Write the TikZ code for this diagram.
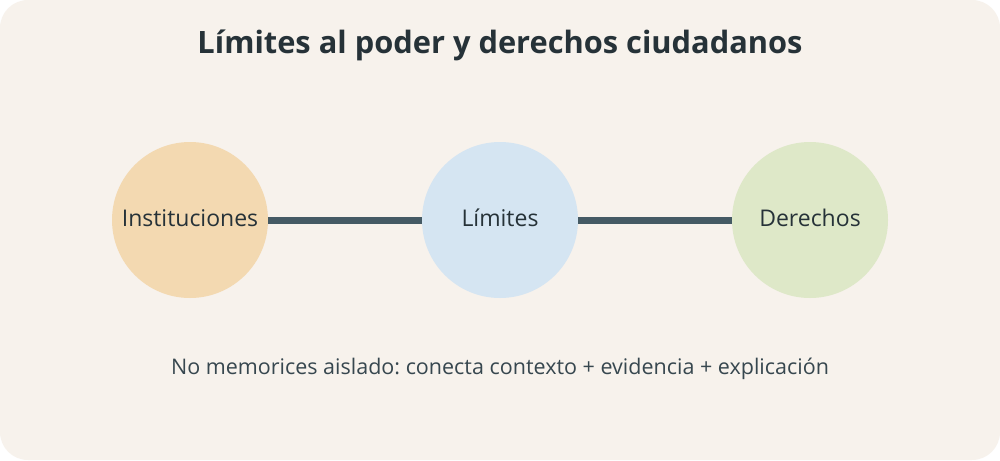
\documentclass[tikz,border=0pt]{standalone}
\usepackage{fontspec}
\setmainfont{Open Sans}
\usepackage{tikz}
\usetikzlibrary{positioning}
\frenchspacing

\definecolor{bgcream}{HTML}{F7F2EC}
\definecolor{inkdark}{HTML}{263238}
\definecolor{inkmid}{HTML}{37474F}
\definecolor{linkgrey}{HTML}{455A64}
\definecolor{sand}{HTML}{F3D9B1}
\definecolor{sky}{HTML}{D5E5F2}
\definecolor{sage}{HTML}{DEE8C8}

\begin{document}
\begin{tikzpicture}[x=1pt, y=-1pt,
        topic/.style = {circle, minimum size=156pt, inner sep=0pt, fill=#1},
        tag/.style = {anchor=base, inner sep=0pt, text=inkdark, font=\fontsize{23}{27}\selectfont},
        link/.style = {line width=7pt, linkgrey}
        ]
        \useasboundingbox (0,0) rectangle (1000,460);
        \fill[white] (0,0) rectangle (1000,460);
        \fill[bgcream, rounded corners=28pt] (0,0) rectangle (1000,460);

        \node[text=inkdark, anchor=base, inner sep=0pt, font=\bfseries\fontsize{30.8}{36}\selectfont] (title) at (500,54) {Límites al poder y derechos ciudadanos};

        \node[topic=sand] (inst) at (190,220) {};
        \node[topic=sky] (lim) at (500,220) {};
        \node[topic=sage] (der) at (810,220) {};
        \node[tag] (instlabel) at (190,226.5) {Instituciones};
        \node[tag] (limlabel) at (500,226.5) {Límites};
        \node[tag] (derlabel) at (810,226.5) {Derechos};

        \draw[link] (inst) -- (lim);
        \draw[link] (lim) -- (der);

        \node[text=inkmid, anchor=base, inner sep=0pt, font=\fontsize{21.5}{26}\selectfont] (note) at (500,374) {No memorices aislado: conecta contexto + evidencia + explicación};

    \end{tikzpicture}
\end{document}
